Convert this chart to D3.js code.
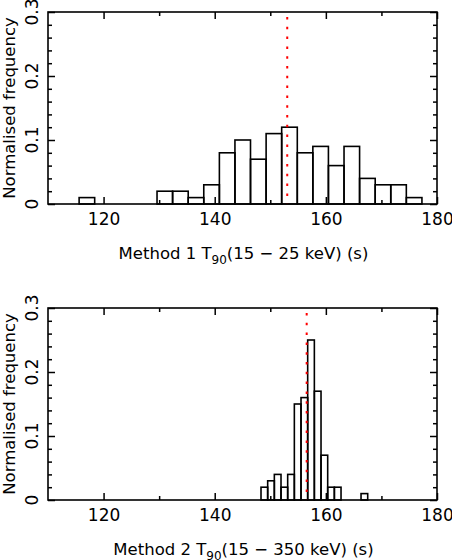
<!DOCTYPE html>
<html>
<head>
<meta charset="utf-8">
<script src="https://cdn.jsdelivr.net/npm/d3@7"></script>
<style>
	body{margin:0;background:#fff;}
</style>
</head>
<body>
<svg id="chart"></svg>
<script>
// method 1 : T90 in 15-25 keV, bin edges (s) and normalised frequency
const edges1 = [115.60, 118.40, 121.21, 124.01, 126.82, 129.62, 132.42, 135.23, 138.03, 140.84, 143.64, 146.44,
	149.25, 152.05, 154.86, 157.66, 160.46, 163.27, 166.07, 168.88, 171.68, 174.48, 177.29]
const freq1 = [0.01, 0, 0, 0, 0, 0.02, 0.02, 0.01, 0.03, 0.08, 0.10, 0.07, 0.11, 0.12, 0.08, 0.09, 0.06, 0.09, 0.04, 0.03, 0.03, 0.01]
const median1 = 153.05

// method 2 : T90 in 15-350 keV
const edges2 = [148.33, 149.53, 150.73, 151.93, 153.13, 154.33, 155.53, 156.73, 157.93, 159.13, 160.33, 161.53,
	162.73, 163.93, 165.13, 166.33, 167.53]
const freq2 = [0.02, 0.03, 0.04, 0.02, 0.04, 0.15, 0.16, 0.25, 0.17, 0.07, 0.02, 0.02, 0, 0, 0, 0.01]
const median2 = 156.55

const xMajor = [120, 140, 160, 180]
const xMinor = [130, 150, 170]
const yMajor = [0, 0.1, 0.2, 0.3]
const yMinor = [0.02, 0.04, 0.06, 0.08, 0.12, 0.14, 0.16, 0.18, 0.22, 0.24, 0.26, 0.28]

const xTitles = [
	['Method 1 T', '90', '(15 − 25 keV) (s)'],
	['Method 2 T', '90', '(15 − 350 keV) (s)']
]
const yTitle = 'Normalised frequency'

let outer_width = 452
let outer_height = 560

let margin = {
	top: 12,
	left: 48
}
let width = 389
let height = 192
let panel_step = 296

const container = d3.select('#chart')
	.attr('width', outer_width)
	.attr('height', outer_height)
	.style('font-family', 'DejaVu Sans')
	.style('background', '#fff')

const xScale = d3.scaleLinear().domain([110, 180]).range([0, width])
const yScale = d3.scaleLinear().domain([0, 0.3]).range([height, 0])

const tickStyle = (g)=>{
	g.select('.domain').remove()
	g.selectAll('line').attr('stroke', '#000').attr('stroke-width', 1.5)
}

const panel = (edges, freq, median, title, offset)=>{

	const chart = container.append('g')
		.attr('transform', `translate(${margin.left},${margin.top + offset})`)

	const bins = freq.map((f, i)=>({x0: edges[i], x1: edges[i + 1], f: f}))

	chart.selectAll('.bar')
		.data(bins)
		.enter()
		.append('rect')
		.classed('bar', true)
		.attr('x', d => xScale(d.x0))
		.attr('width', d => xScale(d.x1) - xScale(d.x0))
		.attr('y', d => yScale(d.f))
		.attr('height', d => height - yScale(d.f))
		.attr('fill', 'none')
		.attr('stroke', '#000')
		.attr('stroke-width', 1.6)

	// median line
	chart.append('line')
		.attr('x1', xScale(median))
		.attr('x2', xScale(median))
		.attr('y1', yScale(0.3))
		.attr('y2', yScale(0))
		.attr('stroke', '#ff0000')
		.attr('stroke-width', 2)
		.attr('stroke-dasharray', '2.5,7.3')
		.attr('stroke-dashoffset', 4.8)

	// ticks, all pointing inward
	const nofmt = () => ''
	chart.append('g').attr('transform', `translate(0,${height})`)
		.call(d3.axisBottom(xScale).tickValues(xMajor).tickSize(-7).tickPadding(9).tickFormat(d3.format('d')))
		.call(tickStyle)
		.selectAll('text')
		.attr('font-size', 17)
		.attr('font-family', 'DejaVu Sans')
		.attr('fill', '#000')
	chart.append('g').attr('transform', `translate(0,${height})`)
		.call(d3.axisBottom(xScale).tickValues(xMinor).tickSize(-4).tickFormat(nofmt))
		.call(tickStyle)
	chart.append('g')
		.call(d3.axisTop(xScale).tickValues(xMajor).tickSize(-7).tickFormat(nofmt))
		.call(tickStyle)
	chart.append('g')
		.call(d3.axisTop(xScale).tickValues(xMinor).tickSize(-4).tickFormat(nofmt))
		.call(tickStyle)
	chart.append('g')
		.call(d3.axisLeft(yScale).tickValues(yMajor).tickSize(-7).tickFormat(nofmt))
		.call(tickStyle)
	chart.append('g')
		.call(d3.axisLeft(yScale).tickValues(yMinor).tickSize(-4).tickFormat(nofmt))
		.call(tickStyle)
	chart.append('g').attr('transform', `translate(${width},0)`)
		.call(d3.axisRight(yScale).tickValues(yMajor).tickSize(-7).tickFormat(nofmt))
		.call(tickStyle)
	chart.append('g').attr('transform', `translate(${width},0)`)
		.call(d3.axisRight(yScale).tickValues(yMinor).tickSize(-4).tickFormat(nofmt))
		.call(tickStyle)

	// rotated y labels
	chart.selectAll('.ylabel')
		.data(yMajor)
		.enter()
		.append('text')
		.classed('ylabel', true)
		.text(d => d == 0 ? '0' : d3.format('.1f')(d))
		.attr('font-size', 17)
		.attr('text-anchor', 'middle')
		.attr('transform', d => `translate(-10,${yScale(d)}) rotate(-90)`)

	// frame
	chart.append('rect')
		.attr('width', width)
		.attr('height', height)
		.attr('fill', 'none')
		.attr('stroke', '#000')
		.attr('stroke-width', 1.6)

	// titles
	const xt = chart.append('text')
		.attr('x', width / 2 + 1)
		.attr('y', height + 54.5)
		.attr('text-anchor', 'middle')
		.attr('font-size', 16.5)
	xt.append('tspan').text(title[0])
	xt.append('tspan').text(title[1]).attr('font-size', 12).attr('dy', 5)
	xt.append('tspan').text(title[2]).attr('dy', -5)

	chart.append('text')
		.text(yTitle)
		.attr('font-size', 16.5)
		.attr('text-anchor', 'middle')
		.attr('transform', `translate(-33.5,${height / 2}) rotate(-90)`)
}

panel(edges1, freq1, median1, xTitles[0], 0)
panel(edges2, freq2, median2, xTitles[1], panel_step)
</script>
</body>
</html>
